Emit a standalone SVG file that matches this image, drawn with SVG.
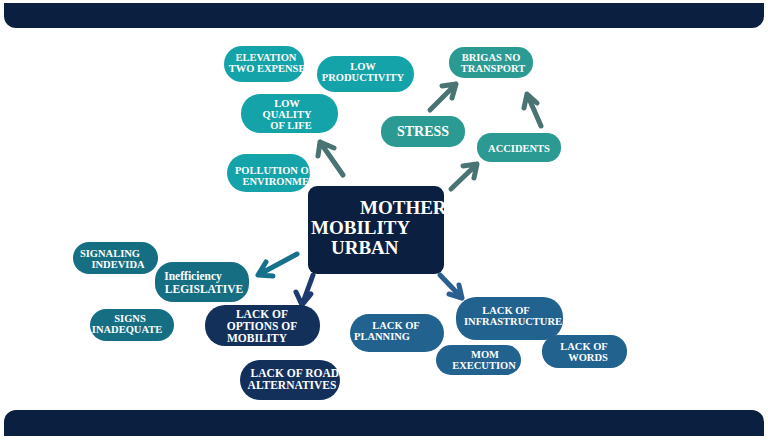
<svg xmlns="http://www.w3.org/2000/svg" width="768" height="446" viewBox="0 0 768 446">
<style>
text{font-family:"Liberation Serif",serif;font-weight:bold;fill:#fff;text-anchor:middle;font-size:10.5px}
.c{font-size:19px;text-anchor:start}
.m{font-size:11.5px}
.a{fill:none;stroke-width:5;stroke-linecap:round;stroke-linejoin:round}
</style>
<defs>
<clipPath id="k1"><rect x="224" y="46" width="80" height="36"/></clipPath>
<clipPath id="k2"><rect x="227" y="154" width="83" height="38"/></clipPath>
<clipPath id="k3"><rect x="308" y="186" width="136" height="88"/></clipPath>
<clipPath id="k4"><rect x="240" y="360" width="100" height="40"/></clipPath>
<clipPath id="k5"><rect x="456" y="297" width="107" height="43"/></clipPath>
</defs>
<rect width="768" height="446" fill="#fff"/>
<rect x="4" y="3" width="760" height="25" rx="12" fill="#0b1f40"/>
<rect x="4" y="3" width="760" height="12" fill="#0b1f40"/>
<rect x="4" y="410" width="760" height="26" rx="12" fill="#0b1f40"/>
<rect x="4" y="424" width="760" height="12" fill="#0b1f40"/>
<g id="connectors">
<g class="a" stroke="#4a7474">
<path d="M343 175L320 142M318 156L320 142L334 148"/>
<path d="M430 110L456 84M442 86L456 84L452 98"/>
<path d="M541 126L527 94M524 108L527 94L537 103"/>
<path d="M451 189L477 164M463 166L477 164L474 178"/>
</g>
<path class="a" stroke="#16728a" d="M297 254L258 275M266 262L258 275L273 276"/>
<path class="a" stroke="#1e3a6e" d="M313 275L302 305M296 292L302 305L311 294"/>
<path class="a" stroke="#2a5f90" d="M440 275L462 298M449 294L462 298L459 285"/>
</g>
<g id="n1" clip-path="url(#k1)"><rect x="224" y="46" width="80" height="36" rx="18" fill="#14a3a8"/><text x="266" y="61">ELEVATION</text><text x="270" y="72">TWO EXPENSES</text></g>
<g id="n2"><rect x="317" y="56" width="97" height="36" rx="18" fill="#14a3a8"/><text x="363" y="70">LOW</text><text x="363" y="81">PRODUCTIVITY</text></g>
<g id="n3"><rect x="241" y="94" width="97" height="39" rx="19" fill="#14a3a8"/><text x="287" y="107">LOW</text><text x="287" y="118">QUALITY</text><text x="291" y="129">OF LIFE</text></g>
<g id="n4" clip-path="url(#k2)"><rect x="227" y="154" width="83" height="38" rx="19" fill="#14a3a8"/><text x="275" y="174">POLLUTION OF</text><text x="283" y="185">ENVIRONMENT</text></g>
<g id="n5"><rect x="381" y="116" width="84" height="31" rx="15" fill="#2a9a92"/><text x="423" y="136" style="font-size:14px">STRESS</text></g>
<g id="n6"><rect x="449" y="47" width="84" height="31" rx="15" fill="#2a9a92"/><text x="491" y="61">BRIGAS NO</text><text x="493" y="72">TRANSPORT</text></g>
<g id="n7"><rect x="477" y="133" width="84" height="29" rx="14" fill="#2a9a92"/><text x="519" y="152">ACCIDENTS</text></g>
<g id="center" clip-path="url(#k3)"><rect x="308" y="186" width="136" height="88" rx="9" fill="#0b1f40"/><text class="c" x="360" y="214">MOTHER</text><text class="c" x="311" y="234">MOBILITY</text><text class="c" x="331" y="254">URBAN</text></g>
<g id="n8"><rect x="73" y="242" width="85" height="32" rx="16" fill="#166e82"/><text x="110" y="257">SIGNALING</text><text x="118" y="268">INDEVIDA</text></g>
<g id="n9"><rect x="155" y="262" width="94" height="40" rx="18" fill="#166e82"/><text class="m" x="193" y="280">Inefficiency</text><text class="m" x="204" y="293">LEGISLATIVE</text></g>
<g id="n10"><rect x="90" y="309" width="84" height="32" rx="16" fill="#166e82"/><text x="130" y="322">SIGNS</text><text x="127" y="333">INADEQUATE</text></g>
<g id="n11"><rect x="205" y="305" width="115" height="41" rx="20" fill="#13305a"/><text class="m" x="262" y="318">LACK OF</text><text class="m" x="262" y="330">OPTIONS OF</text><text class="m" x="257" y="342">MOBILITY</text></g>
<g id="n12" clip-path="url(#k4)"><rect x="240" y="360" width="100" height="40" rx="20" fill="#13305a"/><text class="m" x="298" y="377">LACK OF ROADS</text><text class="m" x="292" y="389">ALTERNATIVES</text></g>
<g id="n13"><rect x="350" y="314" width="94" height="38" rx="19" fill="#22628e"/><text x="396" y="329">LACK OF</text><text x="382" y="340">PLANNING</text></g>
<g id="n14" clip-path="url(#k5)"><rect x="456" y="297" width="107" height="43" rx="20" fill="#22628e"/><text x="506" y="314">LACK OF</text><text x="513" y="325">INFRASTRUCTURE</text></g>
<g id="n15"><rect x="436" y="345" width="85" height="30" rx="15" fill="#22628e"/><text x="485" y="358">MOM</text><text x="484" y="369">EXECUTION</text></g>
<g id="n16"><rect x="542" y="335" width="85" height="33" rx="16" fill="#22628e"/><text x="584" y="350">LACK OF</text><text x="588" y="361">WORDS</text></g>
</svg>
